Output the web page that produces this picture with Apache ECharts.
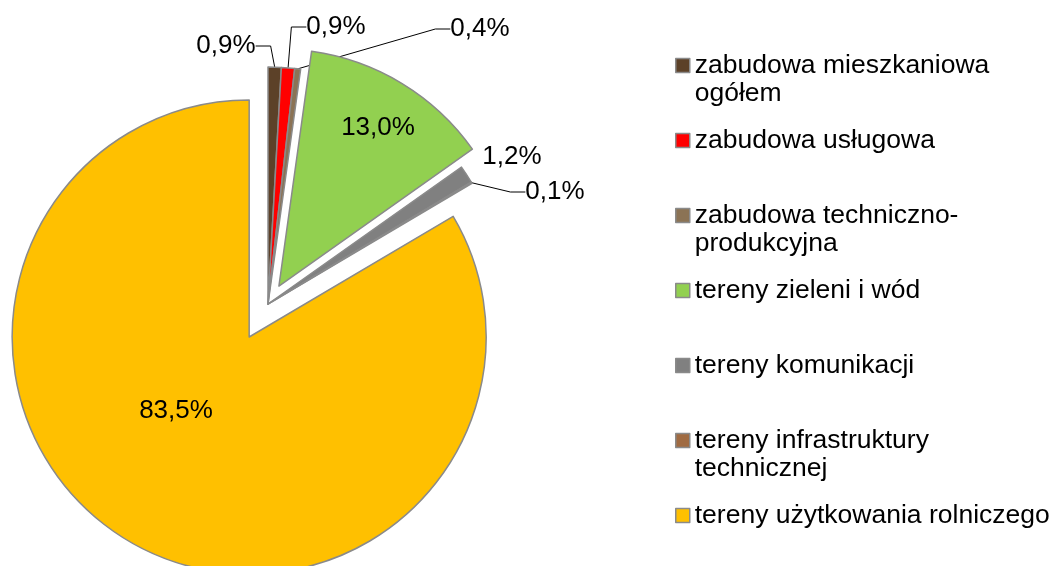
<!DOCTYPE html>
<html>
<head>
<meta charset="utf-8">
<script src="https://cdn.jsdelivr.net/npm/echarts@6/dist/echarts.min.js"></script>
<style>
  html, body { margin: 0; padding: 0; background: #fff; }
  #chart { width: 1053px; height: 566px; }
</style>
</head>
<body>
<div id="chart"></div>
<script>
// kategorie (legenda), udzial w %
var categories = [
  'zabudowa mieszkaniowa\nogółem',
  'zabudowa usługowa',
  'zabudowa techniczno-\nprodukcyjna',
  'tereny zieleni i wód',
  'tereny komunikacji',
  'tereny infrastruktury\ntechnicznej',
  'tereny użytkowania rolniczego'
];
var shares = [0.9, 0.9, 0.4, 13.0, 1.2, 0.1, 83.5];

var colors = ['#5c4128', '#ff0000', '#8b7355', '#92d050', '#808080', '#a06b42', '#ffc000'];
var FONT = '"Liberation Sans", Arial, sans-serif';

// wspolny srodek kola i promien
var baseCenter = [268, 304];
var R = 237;

// wysuniecie wycinkow (px)
var explode = { 3: 21, 6: 38 };

// gdzie stoja etykiety procentowe
var labelSpots = [[226, 46], [336, 27], [480, 29], [378, 128], [512, 157], [555, 192], [176, 411]];
var insideLabel = [3, 6];
var noLine = [4];

var total = shares.reduce(function (a, b) { return a + b; }, 0);

function shiftedCenter(idx) {
  var before = 0;
  for (var i = 0; i < idx; i++) before += shares[i];
  var theta = 2 * Math.PI * (before + shares[idx] / 2) / total;
  var d = explode[idx] || 0;
  return [baseCenter[0] + d * Math.sin(theta), baseCenter[1] - d * Math.cos(theta)];
}

function pieSeries(visible, center) {
  return {
    type: 'pie',
    radius: R,
    center: center,
    startAngle: 90,
    clockwise: true,
    silent: true,
    animation: false,
    avoidLabelOverlap: false,
    data: categories.map(function (name, i) {
      var on = visible.indexOf(i) >= 0;
      return {
        name: name,
        value: shares[i],
        itemStyle: on ? { color: colors[i], borderColor: '#8a8a8a', borderWidth: 1.5 }
                      : { color: 'transparent', borderWidth: 0 },
        label: { show: on, position: insideLabel.indexOf(i) >= 0 ? 'inside' : 'outside' },
        labelLine: { show: on && insideLabel.indexOf(i) < 0 && noLine.indexOf(i) < 0 }
      };
    }),
    label: {
      formatter: function (p) { return p.value.toFixed(1).replace('.', ',') + '%'; },
      fontSize: 26,
      fontFamily: FONT,
      color: '#000'
    },
    labelLine: { length: 10, length2: 15, lineStyle: { color: '#000', width: 1 } },
    labelLayout: function (p) {
      var s = labelSpots[p.dataIndex];
      return { x: s[0], y: s[1], align: 'center', verticalAlign: 'middle' };
    }
  };
}

var chart = echarts.init(document.getElementById('chart'), null, { renderer: 'canvas' });

var option = {
  backgroundColor: '#fff',
  legend: {
    orient: 'vertical',
    left: 675,
    top: 24,
    height: 540,
    padding: 0,
    itemGap: -8,
    itemWidth: 14,
    itemHeight: 14,
    icon: 'rect',
    selectedMode: false,
    data: categories.map(function (name, i) {
      return { name: name, itemStyle: { color: colors[i], borderColor: '#8a8a8a', borderWidth: 1.5 } };
    }),
    formatter: function (name) {
      var lines = name.split('\n');
      return '{gap| }\n{txt|' + lines[0] + '}\n' + (lines[1] ? '{txt|' + lines[1] + '}' : '{gap| }');
    },
    textStyle: {
      rich: {
        txt: { fontSize: 26.5, lineHeight: 28, fontFamily: FONT, color: '#000' },
        gap: { fontSize: 26.5, lineHeight: 28, fontFamily: FONT }
      }
    }
  },
  series: [
    pieSeries([6], shiftedCenter(6)),
    pieSeries([0, 1, 2, 4, 5], baseCenter),
    pieSeries([3], shiftedCenter(3))
  ]
};

chart.setOption(option);
</script>
</body>
</html>
